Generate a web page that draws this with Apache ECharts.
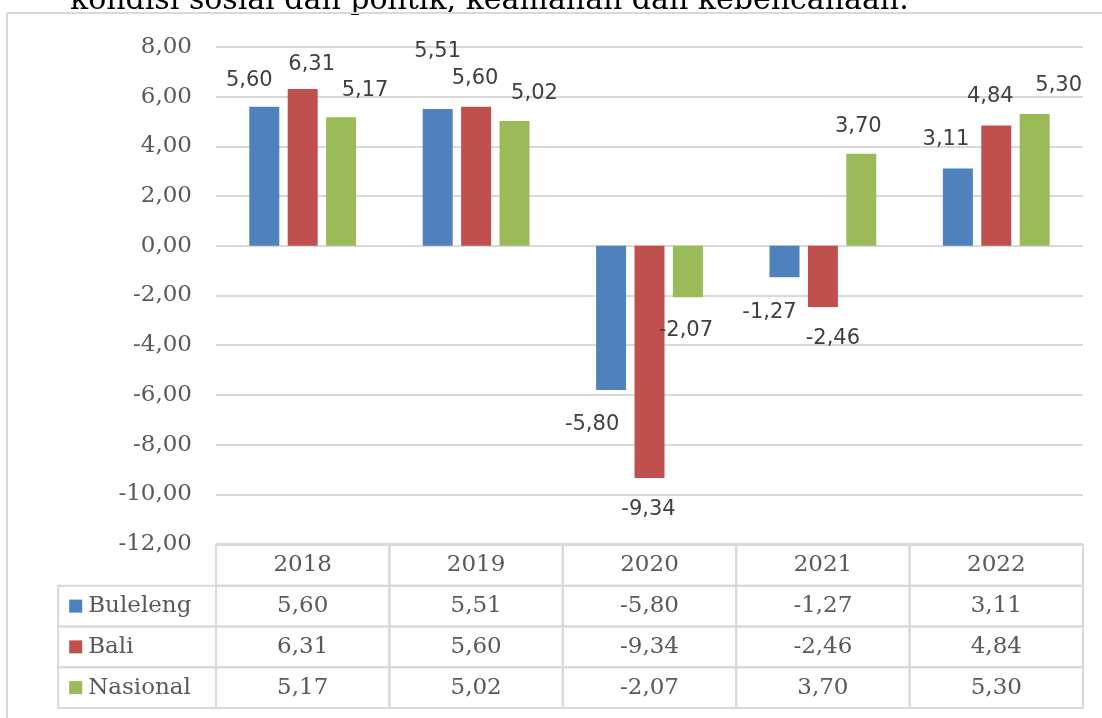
<!DOCTYPE html>
<html>
<head>
<meta charset="utf-8">
<script src="https://cdn.jsdelivr.net/npm/echarts@6/dist/echarts.min.js"></script>
<style>html,body{margin:0;padding:0;background:#fff;}#c{width:1102px;height:718px;}</style>
</head>
<body>
<div id="c"></div>
<script>
// ---- data ----
const years = ['2018', '2019', '2020', '2021', '2022'];
const seriesNames = ['Buleleng', 'Bali', 'Nasional'];
const buleleng = [5.60, 5.51, -5.80, -1.27, 3.11];
const bali = [6.31, 5.60, -9.34, -2.46, 4.84];
const nasional = [5.17, 5.02, -2.07, 3.70, 5.30];
const yMin = -12, yMax = 8, yStep = 2;
const headText = 'kondisi sosial dan politik, keamanan dan kebencanaan.';

// ---- style config ----
const colors = ['#4f81bd', '#c0504d', '#9bbb59'];
const labelOffsets = [
  [[-15, -10.5], [0, -41.5], [-19, 19.5], [-15, 20], [-12, -13]],
  [[9, -8.5], [-1, -13], [-1, 16.5], [10, 16.5], [-6, -13]],
  [[24, -11.5], [20, -12.5], [-2, 17.5], [-3, -11.5], [24, -13.5]]
];
const fmt = v => v.toFixed(2).replace('.', ',');
const serif = 'DejaVu Serif';
const sans = 'DejaVu Sans';
const grey = '#595959';
const lineGrey = '#d9d9d9';

const allValues = [buleleng, bali, nasional];

const barSeries = allValues.map((vals, si) => ({
  name: seriesNames[si],
  type: 'bar',
  xAxisIndex: 0,
  yAxisIndex: 0,
  barWidth: 30,
  barGap: '28%',
  itemStyle: { color: colors[si] },
  data: vals.map((v, i) => ({
    value: v,
    label: {
      position: v < 0 ? 'bottom' : 'top',
      offset: labelOffsets[si][i]
    }
  })),
  label: {
    show: true,
    distance: 5,
    fontFamily: sans,
    fontSize: 21,
    color: '#404040',
    formatter: p => fmt(p.value)
  }
}));

// table cells
const legendMin = -0.91;
const cells = [];
years.forEach((y, c) => cells.push({ c: c, r: 0, text: y }));
allValues.forEach((vals, si) => {
  cells.push({ c: -1, r: si + 1, text: seriesNames[si], color: colors[si] });
  vals.forEach((v, c) => cells.push({ c: c, r: si + 1, text: fmt(v) }));
});

const tableSeries = {
  type: 'custom',
  xAxisIndex: 1,
  yAxisIndex: 1,
  data: cells.map(cell => [cell.c, cell.r]),
  silent: true,
  renderItem: function (params, api) {
    const cell = cells[params.dataIndex];
    const x0 = cell.c < 0 ? legendMin : cell.c;
    const x1 = cell.c < 0 ? 0 : cell.c + 1;
    const p0 = api.coord([x0, cell.r]);
    const p1 = api.coord([x1, cell.r + 1]);
    const top = Math.min(p0[1], p1[1]);
    const h = Math.abs(p1[1] - p0[1]);
    const mid = top + h / 2;
    const children = [{
      type: 'rect',
      shape: { x: p0[0], y: top, width: p1[0] - p0[0], height: h },
      style: { fill: 'none', stroke: lineGrey, lineWidth: 2 }
    }];
    if (cell.c < 0) {
      children.push({
        type: 'rect',
        shape: { x: p0[0] + 11, y: mid - 6.5, width: 13, height: 13 },
        style: { fill: cell.color }
      });
      children.push({
        type: 'text',
        style: { text: cell.text, x: p0[0] + 30, y: mid, align: 'left', verticalAlign: 'middle',
          font: '23px "' + serif + '"', fill: grey }
      });
    } else {
      children.push({
        type: 'text',
        style: { text: cell.text, x: (p0[0] + p1[0]) / 2, y: mid, align: 'center', verticalAlign: 'middle',
          font: '23px "' + serif + '"', fill: grey }
      });
    }
    return { type: 'group', children: children };
  }
};

const chart = echarts.init(document.getElementById('c'), null, { renderer: 'canvas' });
chart.setOption({
  animation: false,
  backgroundColor: '#fff',
  grid: [
    { left: 216, right: 19, top: 47, bottom: 174, containLabel: false, outerBoundsMode: 'none' },
    { left: 216 + legendMin * 173.4, right: 19, top: 545, bottom: 10, containLabel: false, outerBoundsMode: 'none' }
  ],
  xAxis: [
    { type: 'category', gridIndex: 0, data: years, axisLine: { show: false }, axisTick: { show: false },
      axisLabel: { show: false }, splitLine: { show: false } },
    { type: 'value', gridIndex: 1, min: legendMin, max: 5, show: false }
  ],
  yAxis: [
    { type: 'value', gridIndex: 0, min: yMin, max: yMax, interval: yStep,
      axisLine: { show: false }, axisTick: { show: false },
      axisLabel: { margin: 24, fontFamily: serif, fontSize: 23, color: grey, formatter: v => fmt(v) },
      splitLine: { show: true, lineStyle: { color: lineGrey, width: 2 } } },
    { type: 'value', gridIndex: 1, min: 0, max: 4, inverse: true, show: false }
  ],
  graphic: [
    { type: 'text', x: 70, y: 1, silent: true,
      style: { text: headText, font: '30px "' + serif + '"', fill: '#000', align: 'left', verticalAlign: 'middle' } },
    { type: 'line', silent: true, shape: { x1: 7, y1: 13, x2: 1102, y2: 13 }, style: { stroke: lineGrey, lineWidth: 2 } },
    { type: 'line', silent: true, shape: { x1: 7, y1: 13, x2: 7, y2: 718 }, style: { stroke: lineGrey, lineWidth: 2 } }
  ],
  series: barSeries.concat([tableSeries])
});
</script>
</body>
</html>
